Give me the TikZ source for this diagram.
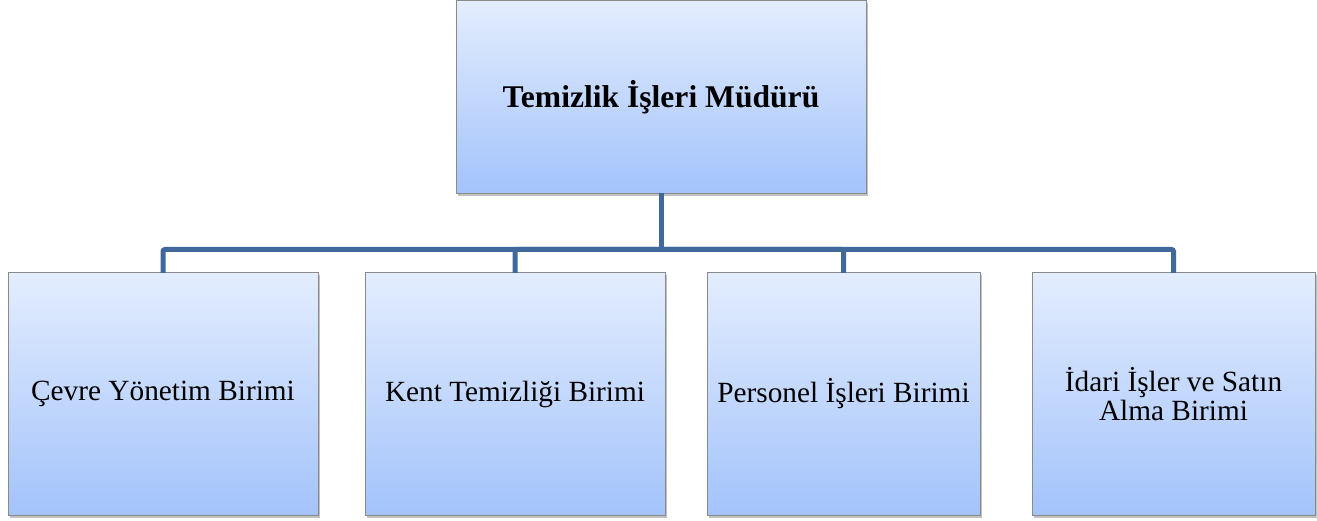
\documentclass[tikz,border=0pt]{standalone}
\usepackage{fontspec}
\setmainfont{Liberation Serif}
\usetikzlibrary{shadows}
\definecolor{boxtop}{HTML}{E3EDFE}
\definecolor{boxbot}{HTML}{A3C3FB}
\definecolor{boxedge}{HTML}{8A8A8A}
\definecolor{connblue}{HTML}{40689A}
\tikzset{
  unitbox/.style={draw=boxedge, line width=1pt, top color=boxtop, bottom color=boxbot,
    inner sep=0pt, outer sep=0pt, align=center,
    drop shadow={shadow xshift=1.5pt, shadow yshift=-2.5pt, opacity=0.35, fill=black!70},
    font=\fontsize{29.3}{29}\selectfont},
  headbox/.style={unitbox, font=\fontsize{31.6}{33}\selectfont\bfseries},
  conn/.style={draw=connblue, line width=5pt, rounded corners=2pt, line cap=butt}
}
\begin{document}
\begin{tikzpicture}[x=1pt,y=-1pt]
\useasboundingbox (0,0) rectangle (1317,521);
\node[headbox, minimum width=410pt, minimum height=193pt] (top) at (661,97) {Temizlik İşleri Müdürü};
\node[unitbox, minimum width=310pt, minimum height=242pt] (c1) at (163,394) {Çevre Yönetim Birimi};
\node[unitbox, minimum width=300pt, minimum height=242pt] (c2) at (515,394) {Kent Temizliği Birimi};
\node[unitbox, minimum width=273pt, minimum height=242pt] (c3) at (843.5,394) {Personel İşleri Birimi};
\node[unitbox, minimum width=283pt, minimum height=242pt] (c4) at (1173.5,394) {İdari İşler ve Satın\\Alma Birimi};
\coordinate (bar) at (661,249.5);
\draw[conn] (top.south) -- (bar);
\foreach \c in {c1,c2,c3,c4} {
  \draw[conn] (bar) -| (\c.north);
}
\end{tikzpicture}
\end{document}
